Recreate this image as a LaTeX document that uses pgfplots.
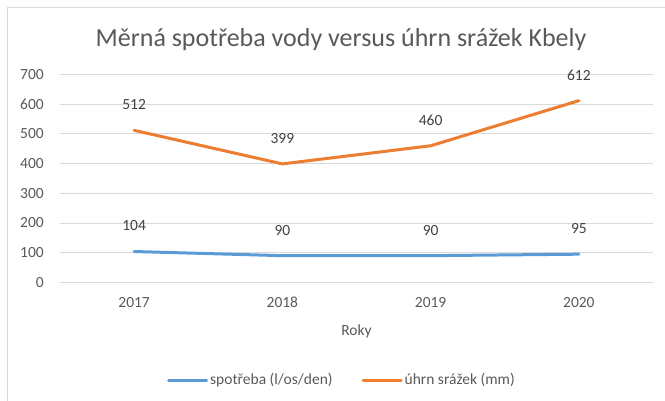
\documentclass[border=0pt]{standalone}
\usepackage{fontspec}
\setmainfont{Carlito}
\usepackage{pgfplots}
\pgfplotsset{compat=1.18}
\definecolor{cblue}{HTML}{5B9BD5}
\definecolor{corange}{HTML}{ED7D31}
\definecolor{ctext}{HTML}{595959}
\definecolor{clabel}{HTML}{404040}
\definecolor{cgrid}{HTML}{D9D9D9}
\begin{document}
\begin{tikzpicture}[x=1pt,y=1pt]
\path[use as bounding box] (0,0) rectangle (665,400);
\begin{scope}
\clip (0,0) rectangle (665,400);
\draw[cgrid, line width=1pt] (7.5,-5) rectangle (675,392);
\end{scope}
\node[font=\fontsize{26}{30}\selectfont, text=ctext] at (341,360) {Měrná spotřeba vody versus úhrn srážek Kbely};
\begin{axis}[
 at={(60pt,117.6pt)}, anchor=south west,
 scale only axis, width=593pt, height=207.9pt,
 xmin=-0.5, xmax=3.5, ymin=0, ymax=700,
 ytick={0,100,...,700},
 xtick={0,1,2,3}, xticklabels={2017,2018,2019,2020},
 axis line style={draw=none},
 ymajorgrids, grid style={cgrid, line width=1pt},
 major tick length=0pt,
 clip=false,
 tick label style={font=\fontsize{15.5}{18}\selectfont, text=ctext},
 /pgf/number format/assume math mode=true,
 yticklabel style={inner sep=0pt, xshift=-16pt},
 xticklabel style={inner sep=0pt, anchor=north, yshift=-14.6pt},
 xlabel={Roky},
 xlabel style={at={(axis description cs:0.5,0)}, anchor=center, yshift=-49pt, font=\fontsize{15.5}{18}\selectfont, text=ctext},
 nodes near coords,
 every node near coord/.append style={font=\fontsize{15.5}{18}\selectfont, text=clabel, inner sep=0pt, anchor=south, yshift=19pt},
 legend columns=2,
 legend style={at={(axis description cs:0.4755,-0.4695)}, anchor=center, draw=none, fill=none,
   font=\fontsize{15.5}{18}\selectfont, text=ctext, inner sep=0pt,
   /tikz/every even column/.append style={column sep=27pt},
   nodes={inner sep=2pt}},
 legend image code/.code={\draw[#1] (0pt,0pt) -- (38pt,0pt);},
]
\addplot[cblue, line width=3pt, line cap=round, line join=round] coordinates {(0,104) (1,90) (2,90) (3,95)};
\addlegendentry{spotřeba (l/os/den)}
\addplot[corange, line width=3pt, line cap=round, line join=round] coordinates {(0,512) (1,399) (2,460) (3,612)};
\addlegendentry{úhrn srážek (mm)}
\end{axis}
\end{tikzpicture}
\end{document}
